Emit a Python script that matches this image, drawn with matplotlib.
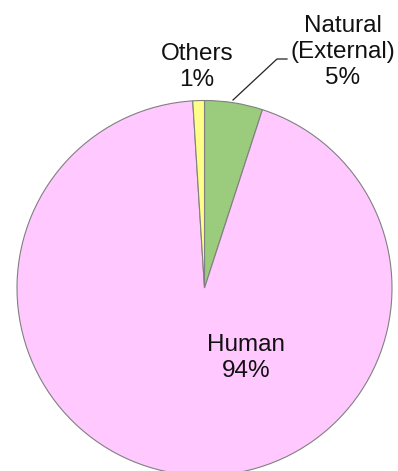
import matplotlib.pyplot as plt

# 数据
categories = ['Natural\n(External)', 'Human', 'Others']
shares = [5, 94, 1]
colors = ['#9BCB7C', '#FFC8FF', '#FFFF88']

# 标签位置（像素坐标，y 轴向上）
label_pos = {
    'Natural\n(External)': (343, 419),
    'Human': (246, 113),
    'Others': (197, 404),
}

plt.rcParams['font.family'] = ['Liberation Sans', 'DejaVu Sans']

fig = plt.figure(figsize=(3.98, 4.71), dpi=100)
ax = fig.add_axes([0, 0, 1, 1])

# 饼图，从12点方向顺时针
ax.pie(shares, colors=colors, startangle=90, counterclock=False,
       center=(204.5, 183), radius=187.5, frame=True,
       wedgeprops=dict(edgecolor='#808080', linewidth=0.8))
ax.set_xlim(0, 398)
ax.set_ylim(0, 471)
ax.set_aspect('equal')
ax.axis('off')

for name, val in zip(categories, shares):
    x, y = label_pos[name]
    ax.text(x, y, f'{name}\n{val}%', ha='center', va='center',
            fontsize=17.5, linespacing=1.22, color='#111111')

# Natural 的引导线
ax.plot([233, 277, 287], [371, 412, 412], color='#222222', lw=0.9)

fig.savefig('out.png', dpi=100)
